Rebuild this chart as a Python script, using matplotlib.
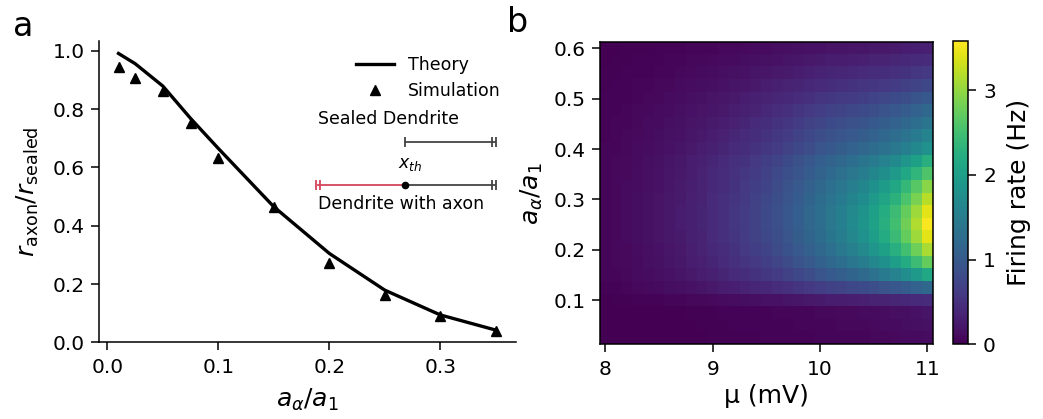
import numpy as np
import matplotlib
matplotlib.use("Agg")
import matplotlib.pyplot as plt

# panel a: normalised rate vs a_alpha/a_1
ratio_x = [0.01, 0.025, 0.05, 0.075, 0.1, 0.15, 0.2, 0.25, 0.3, 0.35]
theory_y = [0.991, 0.956, 0.879, 0.768, 0.665, 0.465, 0.305, 0.179, 0.094, 0.042]
sim_y = [0.945, 0.907, 0.862, 0.754, 0.631, 0.465, 0.273, 0.162, 0.090, 0.040]

# panel b: firing rate map (rows = a_alpha/a_1, cols = mu)
mu_vals = [8.0, 8.1, 8.2, 8.3, 8.4, 8.5, 8.6, 8.7, 8.8, 8.9, 9.0, 9.1, 9.2, 9.3, 9.4, 9.5,
           9.6, 9.7, 9.8, 9.9, 10.0, 10.1, 10.2, 10.3, 10.4, 10.5, 10.6, 10.7, 10.8, 10.9, 11.0]
alpha_vals = [0.025, 0.05, 0.075, 0.1, 0.125, 0.15, 0.175, 0.2, 0.225, 0.25, 0.275, 0.3,
              0.325, 0.35, 0.375, 0.4, 0.425, 0.45, 0.475, 0.5, 0.525, 0.55, 0.575, 0.6]
rate = [
    [0.00,0.00,0.00,0.00,0.01,0.01,0.01,0.01,0.01,0.01,0.02,0.02,0.02,0.02,0.02,0.03,0.03,0.03,0.04,0.04,0.05,0.05,0.05,0.06,0.06,0.07,0.08,0.09,0.10,0.11,0.12],
    [0.00,0.00,0.00,0.01,0.01,0.01,0.01,0.01,0.01,0.02,0.02,0.02,0.03,0.03,0.03,0.04,0.04,0.04,0.05,0.05,0.06,0.06,0.07,0.08,0.08,0.09,0.10,0.11,0.13,0.14,0.16],
    [0.00,0.00,0.01,0.01,0.01,0.01,0.01,0.01,0.02,0.02,0.02,0.03,0.03,0.03,0.04,0.04,0.05,0.05,0.06,0.06,0.07,0.08,0.09,0.09,0.10,0.11,0.12,0.14,0.15,0.17,0.20],
    [0.01,0.02,0.02,0.03,0.04,0.04,0.05,0.06,0.07,0.08,0.09,0.11,0.12,0.13,0.15,0.17,0.18,0.20,0.22,0.24,0.26,0.27,0.29,0.30,0.32,0.34,0.36,0.38,0.40,0.43,0.46],
    [0.03,0.04,0.06,0.07,0.09,0.10,0.13,0.15,0.18,0.20,0.24,0.27,0.30,0.34,0.38,0.41,0.46,0.50,0.55,0.60,0.65,0.69,0.73,0.77,0.81,0.86,0.91,0.97,1.04,1.12,1.21],
    [0.05,0.06,0.08,0.10,0.12,0.14,0.17,0.20,0.24,0.28,0.32,0.37,0.42,0.47,0.52,0.58,0.64,0.71,0.78,0.85,0.94,1.01,1.08,1.16,1.24,1.35,1.46,1.59,1.75,1.93,2.13],
    [0.05,0.07,0.09,0.11,0.14,0.16,0.20,0.23,0.27,0.31,0.37,0.42,0.48,0.54,0.60,0.67,0.75,0.82,0.91,1.00,1.11,1.20,1.29,1.40,1.51,1.66,1.80,1.99,2.20,2.45,2.73],
    [0.06,0.07,0.09,0.12,0.15,0.18,0.21,0.25,0.30,0.34,0.40,0.46,0.52,0.59,0.66,0.73,0.82,0.90,1.00,1.10,1.21,1.31,1.43,1.56,1.68,1.86,2.03,2.24,2.49,2.79,3.12],
    [0.06,0.08,0.10,0.13,0.16,0.19,0.23,0.26,0.31,0.36,0.42,0.48,0.55,0.62,0.70,0.77,0.86,0.95,1.05,1.16,1.27,1.39,1.52,1.66,1.81,2.00,2.20,2.44,2.73,3.06,3.44],
    [0.06,0.08,0.10,0.13,0.16,0.19,0.23,0.27,0.32,0.37,0.43,0.49,0.56,0.63,0.71,0.79,0.88,0.97,1.07,1.18,1.30,1.42,1.55,1.70,1.85,2.05,2.25,2.50,2.80,3.15,3.55],
    [0.06,0.08,0.10,0.13,0.16,0.19,0.23,0.27,0.32,0.37,0.43,0.49,0.56,0.63,0.71,0.79,0.88,0.97,1.07,1.18,1.30,1.42,1.54,1.68,1.83,2.02,2.21,2.45,2.73,3.06,3.44],
    [0.06,0.08,0.10,0.13,0.16,0.19,0.23,0.26,0.31,0.36,0.42,0.48,0.55,0.61,0.69,0.77,0.86,0.94,1.04,1.15,1.26,1.37,1.48,1.61,1.74,1.92,2.09,2.30,2.56,2.86,3.20],
    [0.06,0.08,0.10,0.12,0.15,0.18,0.22,0.26,0.30,0.35,0.41,0.46,0.53,0.59,0.67,0.74,0.83,0.91,1.00,1.10,1.21,1.31,1.41,1.53,1.65,1.80,1.96,2.15,2.38,2.65,2.95],
    [0.06,0.07,0.09,0.12,0.15,0.17,0.21,0.25,0.29,0.34,0.40,0.45,0.51,0.57,0.64,0.71,0.79,0.87,0.95,1.04,1.14,1.23,1.32,1.42,1.52,1.65,1.78,1.94,2.13,2.35,2.59],
    [0.05,0.07,0.09,0.11,0.14,0.16,0.20,0.23,0.28,0.32,0.37,0.42,0.48,0.53,0.60,0.66,0.74,0.81,0.89,0.97,1.07,1.14,1.21,1.30,1.38,1.49,1.59,1.72,1.87,2.04,2.24],
    [0.05,0.06,0.08,0.10,0.12,0.14,0.17,0.20,0.24,0.28,0.32,0.37,0.42,0.47,0.52,0.58,0.64,0.71,0.78,0.85,0.94,0.99,1.05,1.12,1.18,1.26,1.34,1.43,1.55,1.67,1.81],
    [0.04,0.05,0.07,0.09,0.11,0.13,0.16,0.18,0.22,0.25,0.29,0.33,0.38,0.42,0.47,0.53,0.58,0.64,0.70,0.77,0.85,0.89,0.95,1.00,1.05,1.13,1.19,1.28,1.37,1.48,1.60],
    [0.04,0.05,0.06,0.08,0.10,0.11,0.14,0.16,0.19,0.22,0.26,0.29,0.33,0.37,0.42,0.47,0.52,0.57,0.62,0.69,0.75,0.80,0.84,0.89,0.93,0.99,1.05,1.12,1.20,1.29,1.38],
    [0.03,0.04,0.05,0.07,0.08,0.10,0.12,0.14,0.17,0.19,0.22,0.25,0.29,0.32,0.36,0.40,0.45,0.49,0.54,0.59,0.65,0.69,0.73,0.77,0.81,0.86,0.91,0.97,1.04,1.12,1.21],
    [0.03,0.04,0.04,0.06,0.07,0.08,0.10,0.12,0.14,0.16,0.19,0.21,0.24,0.27,0.31,0.34,0.38,0.41,0.45,0.50,0.55,0.58,0.61,0.64,0.67,0.72,0.76,0.81,0.86,0.93,0.99],
    [0.02,0.03,0.04,0.05,0.06,0.07,0.08,0.10,0.12,0.13,0.15,0.18,0.20,0.22,0.25,0.28,0.31,0.34,0.37,0.40,0.44,0.47,0.49,0.52,0.54,0.57,0.60,0.64,0.68,0.73,0.78],
    [0.02,0.02,0.03,0.04,0.04,0.05,0.06,0.08,0.09,0.10,0.12,0.14,0.16,0.17,0.20,0.22,0.24,0.26,0.29,0.32,0.35,0.37,0.39,0.41,0.43,0.45,0.47,0.50,0.53,0.57,0.60],
    [0.01,0.02,0.02,0.03,0.03,0.04,0.05,0.06,0.07,0.08,0.09,0.10,0.11,0.13,0.15,0.16,0.18,0.20,0.22,0.24,0.26,0.27,0.29,0.30,0.32,0.34,0.36,0.38,0.40,0.43,0.46],
    [0.01,0.01,0.02,0.02,0.02,0.03,0.03,0.04,0.05,0.06,0.06,0.07,0.08,0.09,0.10,0.11,0.13,0.14,0.16,0.17,0.18,0.19,0.20,0.21,0.22,0.24,0.25,0.26,0.28,0.30,0.32],
]

TICK = 14.5
LAB = 18
SMALL = 12.5

plt.rcParams["axes.linewidth"] = 1.1
plt.rcParams["xtick.major.size"] = 5.5
plt.rcParams["ytick.major.size"] = 5.5
plt.rcParams["xtick.major.width"] = 1.1
plt.rcParams["ytick.major.width"] = 1.1
plt.rcParams["xtick.major.pad"] = 5.5
plt.rcParams["ytick.major.pad"] = 5

fig = plt.figure(figsize=(10.43, 4.19), dpi=100)

# ---- panel a
ax1 = fig.add_axes([0.095, 0.183, 0.400, 0.720])
ax1.plot(ratio_x, theory_y, color="black", lw=2.4, label="Theory")
ax1.plot(ratio_x, sim_y, "^", color="black", ms=7.5, label="Simulation")
ax1.set_xlim(-0.0075, 0.3685)
ax1.set_ylim(0, 1.035)
ax1.set_xticks([0.0, 0.1, 0.2, 0.3])
ax1.set_yticks([0.0, 0.2, 0.4, 0.6, 0.8, 1.0])
ax1.tick_params(labelsize=TICK)
ax1.spines["top"].set_visible(False)
ax1.spines["right"].set_visible(False)
ax1.set_xlabel(r"$a_\alpha/a_1$", fontsize=LAB, labelpad=7)
ax1.set_ylabel(r"$r_\mathrm{axon}/r_\mathrm{sealed}$", fontsize=LAB, labelpad=8)
ax1.legend(loc="upper right", bbox_to_anchor=(1.0, 1.0), frameon=False,
           fontsize=SMALL, handlelength=2.2, labelspacing=0.45)

# sketch of the two dendrites
gray = "#444444"
red = "#d6435a"
ax1.text(0.190, 0.766, "Sealed Dendrite", fontsize=SMALL, va="center", ha="left")
ax1.plot([0.268, 0.349], [0.688, 0.688], color=gray, lw=1.3)
ax1.plot([0.268], [0.688], "|", color=gray, ms=7, mew=1.3)
ax1.plot([0.3465, 0.3505], [0.688, 0.688], "|", color=gray, ms=7, mew=1.3, ls="none")
ax1.text(0.273, 0.613, r"$x_{th}$", fontsize=SMALL, ha="center", va="center")
ax1.plot([0.190, 0.268], [0.539, 0.539], color=red, lw=1.3)
ax1.plot([0.1880, 0.1915], [0.539, 0.539], "|", color=red, ms=7, mew=1.3, ls="none")
ax1.plot([0.268, 0.349], [0.539, 0.539], color=gray, lw=1.3)
ax1.plot([0.3465, 0.3505], [0.539, 0.539], "|", color=gray, ms=7, mew=1.3, ls="none")
ax1.plot([0.268], [0.539], "o", color="black", ms=4.5)
ax1.text(0.190, 0.474, "Dendrite with axon", fontsize=SMALL, va="center", ha="left")

fig.text(0.012, 0.975, "a", fontsize=24, va="top", ha="left")

# ---- panel b
ax2 = fig.add_axes([0.5753, 0.178, 0.319, 0.722])
img = np.array(rate)
im = ax2.imshow(img, origin="lower", aspect="auto", cmap="viridis",
                interpolation="nearest", vmin=0, vmax=3.58,
                extent=[mu_vals[0] - 0.05, mu_vals[-1] + 0.05,
                        alpha_vals[0] - 0.0125, alpha_vals[-1] + 0.0125])
ax2.set_xticks([8, 9, 10, 11])
ax2.set_yticks([0.1, 0.2, 0.3, 0.4, 0.5, 0.6])
ax2.tick_params(labelsize=TICK)
ax2.set_xlabel("μ (mV)", fontsize=LAB, labelpad=4)
ax2.set_ylabel(r"$a_\alpha/a_1$", fontsize=LAB, labelpad=6)

cax = fig.add_axes([0.914, 0.178, 0.0145, 0.724])
cb = fig.colorbar(im, cax=cax)
cb.set_ticks([0, 1, 2, 3])
cb.ax.tick_params(labelsize=TICK)
cb.outline.set_linewidth(1.1)
cb.set_label("Firing rate (Hz)", fontsize=LAB, labelpad=8)

fig.text(0.486, 0.985, "b", fontsize=24, va="top", ha="left")

fig.savefig("out.png", dpi=100)
